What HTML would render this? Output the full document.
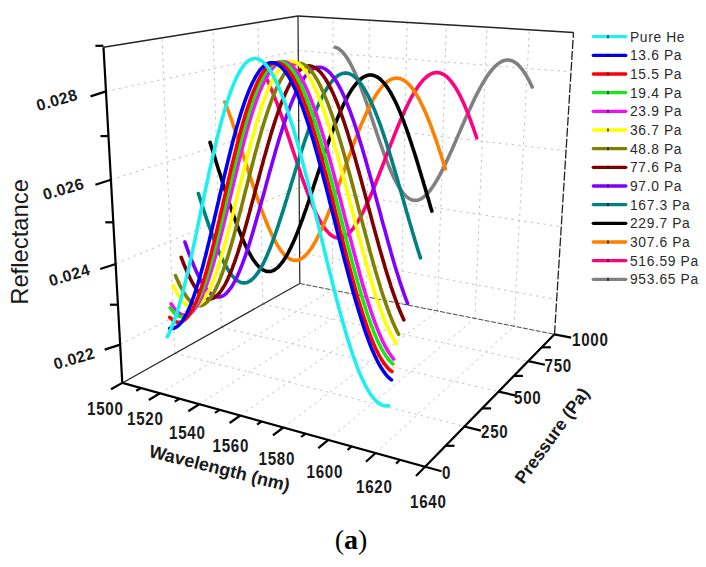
<!DOCTYPE html>
<html><head><meta charset="utf-8"><style>html,body{margin:0;padding:0;background:#fff;}body{width:706px;height:567px;overflow:hidden;}svg{display:block;}</style></head>
<body><svg width="706" height="567" viewBox="0 0 706 567"><g stroke="#c4c4c4" stroke-width="1" stroke-dasharray="2.5 4" fill="none"><line x1="174.9" y1="353.4" x2="162.0" y2="37.9" /><line x1="221.4" y1="327.4" x2="213.0" y2="29.7" /><line x1="262.7" y1="304.2" x2="258.0" y2="22.4" /><line x1="120.2" y1="344.6" x2="299.5" y2="252.5" /><line x1="115.7" y1="264.0" x2="299.1" y2="187.5" /><line x1="110.9" y1="179.7" x2="298.7" y2="120.3" /><line x1="106.0" y1="91.4" x2="298.2" y2="50.6" /><line x1="332.4" y1="290.0" x2="333.0" y2="18.1" /><line x1="366.2" y1="296.7" x2="369.4" y2="20.2" /><line x1="401.2" y1="303.7" x2="407.1" y2="22.5" /><line x1="437.5" y1="310.9" x2="446.3" y2="24.8" /><line x1="475.0" y1="318.4" x2="487.0" y2="27.3" /><line x1="514.0" y1="326.2" x2="529.4" y2="29.8" /><line x1="299.5" y1="252.5" x2="556.7" y2="299.6" /><line x1="299.1" y1="187.5" x2="561.3" y2="226.7" /><line x1="298.7" y1="120.3" x2="566.1" y2="150.8" /><line x1="298.2" y1="50.6" x2="571.0" y2="71.8" /><line x1="159.9" y1="393.3" x2="332.4" y2="290.0" /><line x1="199.2" y1="404.2" x2="366.2" y2="296.7" /><line x1="240.3" y1="415.5" x2="401.2" y2="303.7" /><line x1="283.3" y1="427.5" x2="437.5" y2="310.9" /><line x1="328.3" y1="439.9" x2="475.0" y2="318.4" /><line x1="375.6" y1="453.0" x2="514.0" y2="326.2" /><line x1="174.9" y1="353.4" x2="464.5" y2="426.5" /><line x1="221.4" y1="327.4" x2="498.5" y2="391.6" /><line x1="262.7" y1="304.2" x2="528.3" y2="361.1" /></g>
<g stroke="#222" stroke-width="1.5" fill="none"><line x1="103.5" y1="47.3" x2="298.0" y2="16.0" /><line x1="298.0" y1="16.0" x2="573.5" y2="32.4" /></g>
<g stroke="#222" stroke-width="1.2" fill="none"><line x1="299.8" y1="283.5" x2="298.0" y2="16.0" /><line x1="122.3" y1="382.9" x2="299.8" y2="283.5" /></g>
<g stroke="#222" stroke-width="1.3" stroke-dasharray="9 2" fill="none"><line x1="554.5" y1="334.3" x2="573.5" y2="32.4" /></g>
<g stroke="#333" stroke-width="0.9" stroke-dasharray="5 1.5" fill="none"><line x1="299.8" y1="283.5" x2="554.5" y2="334.3" /></g>
<polyline points="335.2,47.3 336.1,47.6 337.0,47.9 337.9,48.4 338.8,48.9 339.7,49.6 340.6,50.3 341.5,51.1 342.4,52.0 343.3,53.0 344.2,54.1 345.1,55.2 346.0,56.5 346.9,57.8 347.8,59.2 348.7,60.6 349.6,62.2 350.5,63.8 351.4,65.5 352.3,67.3 353.2,69.1 354.1,71.0 355.0,73.0 355.9,75.0 356.8,77.1 357.7,79.2 358.6,81.4 359.5,83.6 360.4,85.9 361.2,88.3 362.1,90.6 363.0,93.0 363.9,95.5 364.8,98.0 365.7,100.5 366.6,103.0 367.5,105.6 368.4,108.2 369.3,110.8 370.2,113.4 371.0,116.0 371.9,118.6 372.8,121.3 373.7,123.9 374.6,126.5 375.5,129.2 376.4,131.8 377.2,134.4 378.1,137.0 379.0,139.6 379.9,142.1 380.8,144.7 381.7,147.2 382.6,149.7 383.4,152.1 384.3,154.6 385.2,156.9 386.1,159.3 387.0,161.6 387.9,163.8 388.8,166.0 389.7,168.2 390.6,170.3 391.4,172.3 392.3,174.3 393.2,176.3 394.1,178.1 395.0,179.9 395.9,181.7 396.8,183.3 397.7,184.9 398.6,186.5 399.5,187.9 400.4,189.3 401.3,190.6 402.2,191.9 403.1,193.0 404.1,194.1 405.0,195.1 405.9,196.0 406.8,196.8 407.7,197.6 408.6,198.2 409.6,198.8 410.5,199.3 411.4,199.7 412.4,200.0 413.3,200.2 414.2,200.3 415.2,200.4 416.1,200.4 417.1,200.2 418.0,200.0 419.0,199.7 419.9,199.3 420.9,198.9 421.9,198.3 422.8,197.7 423.8,196.9 424.8,196.1 425.8,195.2 426.7,194.3 427.7,193.2 428.7,192.1 429.7,190.9 430.7,189.6 431.7,188.2 432.7,186.8 433.7,185.3 434.7,183.7 435.8,182.1 436.8,180.3 437.8,178.6 438.8,176.7 439.9,174.8 440.9,172.9 441.9,170.9 443.0,168.8 444.0,166.7 445.1,164.5 446.1,162.3 447.2,160.1 448.2,157.8 449.3,155.5 450.4,153.1 451.5,150.7 452.5,148.3 453.6,145.9 454.7,143.4 455.8,140.9 456.8,138.4 457.9,135.9 459.0,133.4 460.1,130.9 461.2,128.3 462.3,125.8 463.4,123.3 464.5,120.8 465.6,118.3 466.7,115.8 467.8,113.3 468.9,110.8 470.1,108.4 471.2,106.0 472.3,103.6 473.4,101.2 474.5,98.9 475.6,96.7 476.7,94.4 477.9,92.2 479.0,90.1 480.1,88.0 481.2,86.0 482.3,84.0 483.5,82.1 484.6,80.3 485.7,78.5 486.8,76.8 487.9,75.1 489.0,73.6 490.1,72.1 491.3,70.6 492.4,69.3 493.5,68.1 494.6,66.9 495.7,65.8 496.8,64.8 497.9,63.9 499.0,63.1 500.1,62.4 501.2,61.8 502.2,61.2 503.3,60.8 504.4,60.4 505.5,60.2 506.6,60.0 507.6,60.0 508.7,60.1 509.8,60.2 510.8,60.4 511.9,60.8 512.9,61.2 514.0,61.8 515.0,62.4 516.1,63.2 517.1,64.0 518.2,64.9 519.2,65.9 520.2,67.1 521.2,68.3 522.3,69.6 523.3,71.0 524.3,72.4 525.3,74.0 526.3,75.6 527.3,77.4 528.3,79.2 529.3,81.0 530.3,83.0 531.2,85.0 532.2,87.1" stroke="#808080" stroke-width="3.6" fill="none" stroke-linejoin="round" stroke-linecap="round"/>
<polyline points="264.2,74.0 265.2,75.9 266.2,77.8 267.2,79.8 268.2,81.9 269.1,84.1 270.1,86.3 271.1,88.6 272.1,91.0 273.1,93.4 274.1,95.9 275.1,98.5 276.1,101.1 277.1,103.7 278.1,106.5 279.1,109.2 280.1,112.0 281.1,114.9 282.1,117.7 283.1,120.6 284.1,123.6 285.1,126.5 286.1,129.5 287.1,132.5 288.1,135.6 289.1,138.6 290.1,141.6 291.1,144.7 292.1,147.7 293.1,150.8 294.1,153.8 295.1,156.8 296.1,159.8 297.1,162.8 298.1,165.8 299.1,168.8 300.1,171.7 301.0,174.6 302.0,177.5 303.0,180.3 304.0,183.1 305.0,185.9 306.0,188.6 307.0,191.3 308.0,193.9 309.0,196.5 309.9,199.0 310.9,201.4 311.9,203.8 312.9,206.1 313.9,208.4 314.9,210.6 315.9,212.7 316.8,214.8 317.8,216.7 318.8,218.6 319.8,220.4 320.8,222.2 321.8,223.8 322.8,225.4 323.7,226.9 324.7,228.3 325.7,229.6 326.7,230.8 327.7,231.9 328.7,233.0 329.7,233.9 330.6,234.8 331.6,235.5 332.6,236.2 333.6,236.7 334.6,237.2 335.6,237.6 336.6,237.8 337.6,238.0 338.6,238.1 339.6,238.0 340.6,237.9 341.6,237.7 342.6,237.4 343.6,237.0 344.6,236.4 345.6,235.8 346.6,235.1 347.7,234.3 348.7,233.4 349.7,232.4 350.7,231.4 351.7,230.2 352.8,228.9 353.8,227.6 354.8,226.1 355.8,224.6 356.9,223.0 357.9,221.3 359.0,219.6 360.0,217.7 361.1,215.8 362.1,213.8 363.2,211.8 364.2,209.6 365.3,207.4 366.3,205.2 367.4,202.8 368.5,200.5 369.5,198.0 370.6,195.5 371.7,193.0 372.8,190.4 373.9,187.7 375.0,185.1 376.0,182.3 377.1,179.6 378.2,176.8 379.3,174.0 380.4,171.1 381.6,168.3 382.7,165.4 383.8,162.5 384.9,159.6 386.0,156.7 387.1,153.7 388.3,150.8 389.4,147.9 390.5,145.0 391.6,142.1 392.8,139.2 393.9,136.3 395.1,133.4 396.2,130.6 397.4,127.8 398.5,125.0 399.7,122.3 400.8,119.6 402.0,117.0 403.1,114.4 404.3,111.8 405.4,109.3 406.6,106.9 407.8,104.5 408.9,102.1 410.1,99.9 411.2,97.7 412.4,95.6 413.6,93.6 414.8,91.6 415.9,89.7 417.1,87.9 418.3,86.2 419.4,84.6 420.6,83.1 421.8,81.7 422.9,80.3 424.1,79.1 425.3,78.0 426.4,77.0 427.6,76.0 428.8,75.2 429.9,74.5 431.1,73.9 432.3,73.4 433.4,73.0 434.6,72.7 435.7,72.6 436.9,72.5 438.0,72.6 439.2,72.8 440.3,73.1 441.5,73.5 442.6,74.0 443.8,74.6 444.9,75.3 446.1,76.2 447.2,77.2 448.3,78.2 449.4,79.4 450.6,80.7 451.7,82.1 452.8,83.6 453.9,85.2 455.1,86.9 456.2,88.7 457.3,90.6 458.4,92.5 459.5,94.6 460.6,96.8 461.7,99.0 462.8,101.4 463.9,103.8 465.0,106.3 466.0,108.9 467.1,111.5 468.2,114.2 469.3,117.0 470.4,119.8 471.4,122.8 472.5,125.7 473.6,128.7 474.6,131.8 475.7,134.9 476.7,138.0" stroke="#ff0080" stroke-width="3.6" fill="none" stroke-linejoin="round" stroke-linecap="round"/>
<polyline points="224.8,102.0 225.9,104.7 227.0,107.5 228.0,110.4 229.1,113.2 230.1,116.2 231.2,119.2 232.3,122.2 233.3,125.3 234.4,128.4 235.4,131.5 236.5,134.7 237.6,137.9 238.6,141.1 239.7,144.3 240.8,147.6 241.8,150.9 242.9,154.1 243.9,157.4 245.0,160.7 246.1,164.0 247.1,167.3 248.2,170.5 249.3,173.8 250.3,177.0 251.4,180.2 252.4,183.4 253.5,186.6 254.5,189.7 255.6,192.8 256.6,195.9 257.7,198.9 258.7,201.9 259.8,204.8 260.8,207.7 261.9,210.6 262.9,213.4 264.0,216.1 265.0,218.7 266.0,221.3 267.1,223.9 268.1,226.4 269.2,228.8 270.2,231.1 271.2,233.3 272.3,235.5 273.3,237.6 274.3,239.6 275.4,241.5 276.4,243.4 277.4,245.1 278.4,246.8 279.5,248.4 280.5,249.9 281.5,251.3 282.6,252.6 283.6,253.8 284.6,254.9 285.6,255.9 286.6,256.8 287.7,257.6 288.7,258.3 289.7,258.9 290.7,259.4 291.8,259.8 292.8,260.1 293.8,260.3 294.8,260.4 295.9,260.4 296.9,260.3 297.9,260.1 298.9,259.8 300.0,259.4 301.0,258.8 302.0,258.2 303.0,257.5 304.1,256.7 305.1,255.7 306.1,254.7 307.2,253.6 308.2,252.4 309.2,251.1 310.3,249.7 311.3,248.2 312.4,246.6 313.4,244.9 314.4,243.2 315.5,241.3 316.5,239.4 317.6,237.4 318.6,235.3 319.7,233.2 320.8,230.9 321.8,228.6 322.9,226.2 324.0,223.8 325.0,221.3 326.1,218.7 327.2,216.1 328.2,213.4 329.3,210.6 330.4,207.8 331.5,205.0 332.6,202.1 333.7,199.2 334.8,196.2 335.9,193.2 337.0,190.2 338.1,187.1 339.2,184.0 340.3,180.9 341.4,177.8 342.5,174.7 343.7,171.5 344.8,168.4 345.9,165.2 347.0,162.1 348.2,158.9 349.3,155.8 350.5,152.6 351.6,149.5 352.7,146.4 353.9,143.4 355.0,140.3 356.2,137.3 357.4,134.4 358.5,131.4 359.7,128.5 360.8,125.7 362.0,122.9 363.2,120.2 364.4,117.5 365.5,114.9 366.7,112.3 367.9,109.9 369.1,107.5 370.3,105.1 371.4,102.9 372.6,100.7 373.8,98.6 375.0,96.6 376.2,94.7 377.4,92.9 378.6,91.1 379.8,89.5 381.0,88.0 382.2,86.5 383.4,85.2 384.6,84.0 385.8,82.9 387.0,81.9 388.2,81.0 389.4,80.3 390.6,79.6 391.8,79.1 393.0,78.7 394.2,78.4 395.4,78.2 396.6,78.1 397.8,78.2 399.0,78.3 400.2,78.6 401.4,79.1 402.6,79.6 403.8,80.3 404.9,81.0 406.1,81.9 407.3,82.9 408.5,84.1 409.7,85.3 410.9,86.7 412.1,88.1 413.2,89.7 414.4,91.4 415.6,93.2 416.8,95.1 417.9,97.1 419.1,99.2 420.3,101.5 421.4,103.8 422.6,106.2 423.8,108.6 424.9,111.2 426.1,113.9 427.2,116.6 428.4,119.5 429.5,122.4 430.7,125.3 431.8,128.4 432.9,131.5 434.1,134.6 435.2,137.9 436.4,141.1 437.5,144.5 438.6,147.8 439.7,151.3 440.9,154.7 442.0,158.2 443.1,161.8 444.2,165.3 445.4,168.9" stroke="#ff8000" stroke-width="3.6" fill="none" stroke-linejoin="round" stroke-linecap="round"/>
<polyline points="210.0,142.4 211.1,145.8 212.2,149.2 213.3,152.7 214.3,156.1 215.4,159.6 216.5,163.1 217.6,166.5 218.7,170.0 219.8,173.5 220.9,176.9 222.0,180.4 223.0,183.8 224.1,187.2 225.2,190.5 226.3,193.9 227.4,197.2 228.4,200.4 229.5,203.7 230.6,206.8 231.7,210.0 232.7,213.1 233.8,216.1 234.9,219.1 235.9,222.0 237.0,224.9 238.1,227.7 239.1,230.4 240.2,233.1 241.2,235.7 242.3,238.2 243.3,240.6 244.4,243.0 245.4,245.3 246.5,247.5 247.5,249.6 248.6,251.6 249.6,253.5 250.7,255.4 251.7,257.1 252.7,258.8 253.8,260.4 254.8,261.8 255.8,263.2 256.9,264.5 257.9,265.6 258.9,266.7 260.0,267.6 261.0,268.5 262.0,269.3 263.0,269.9 264.1,270.4 265.1,270.9 266.1,271.2 267.1,271.4 268.1,271.5 269.2,271.5 270.2,271.4 271.2,271.2 272.2,270.9 273.2,270.5 274.3,270.0 275.3,269.3 276.3,268.6 277.3,267.8 278.4,266.8 279.4,265.8 280.4,264.6 281.4,263.4 282.4,262.0 283.5,260.6 284.5,259.0 285.5,257.4 286.6,255.6 287.6,253.8 288.6,251.9 289.6,249.9 290.7,247.8 291.7,245.6 292.8,243.4 293.8,241.1 294.8,238.7 295.9,236.2 296.9,233.6 298.0,231.0 299.0,228.3 300.1,225.5 301.1,222.7 302.2,219.8 303.3,216.9 304.3,213.9 305.4,210.9 306.5,207.8 307.5,204.7 308.6,201.5 309.7,198.3 310.8,195.1 311.8,191.9 312.9,188.6 314.0,185.3 315.1,181.9 316.2,178.6 317.3,175.3 318.4,171.9 319.5,168.6 320.6,165.2 321.8,161.9 322.9,158.5 324.0,155.2 325.1,151.9 326.2,148.6 327.4,145.4 328.5,142.1 329.6,138.9 330.8,135.8 331.9,132.7 333.1,129.6 334.2,126.6 335.4,123.6 336.5,120.7 337.7,117.8 338.9,115.0 340.0,112.3 341.2,109.7 342.4,107.1 343.5,104.6 344.7,102.2 345.9,99.8 347.1,97.6 348.2,95.4 349.4,93.4 350.6,91.4 351.8,89.5 353.0,87.8 354.2,86.1 355.4,84.6 356.6,83.1 357.8,81.8 359.0,80.6 360.2,79.5 361.4,78.5 362.6,77.6 363.8,76.9 365.0,76.3 366.2,75.8 367.4,75.4 368.6,75.1 369.8,75.0 371.0,75.0 372.2,75.1 373.4,75.4 374.6,75.8 375.8,76.3 377.0,76.9 378.2,77.6 379.4,78.5 380.6,79.5 381.8,80.7 383.0,81.9 384.2,83.3 385.4,84.8 386.6,86.4 387.8,88.1 389.0,90.0 390.2,91.9 391.4,94.0 392.5,96.1 393.7,98.4 394.9,100.8 396.1,103.3 397.3,105.8 398.5,108.5 399.6,111.3 400.8,114.1 402.0,117.1 403.2,120.1 404.3,123.2 405.5,126.3 406.7,129.6 407.8,132.9 409.0,136.3 410.1,139.7 411.3,143.2 412.4,146.7 413.6,150.3 414.8,154.0 415.9,157.6 417.1,161.4 418.2,165.1 419.3,168.9 420.5,172.7 421.6,176.5 422.8,180.3 423.9,184.2 425.1,188.0 426.2,191.9 427.3,195.8 428.5,199.6 429.6,203.5 430.7,207.3 431.9,211.1" stroke="#000000" stroke-width="3.6" fill="none" stroke-linejoin="round" stroke-linecap="round"/>
<polyline points="198.4,193.5 199.5,197.0 200.6,200.5 201.7,203.9 202.8,207.4 203.9,210.7 205.0,214.1 206.1,217.4 207.2,220.6 208.3,223.8 209.4,226.9 210.5,230.0 211.5,233.0 212.6,235.9 213.7,238.8 214.8,241.6 215.8,244.3 216.9,247.0 218.0,249.6 219.0,252.0 220.1,254.4 221.2,256.8 222.2,259.0 223.3,261.2 224.3,263.2 225.4,265.2 226.4,267.0 227.5,268.8 228.5,270.5 229.5,272.0 230.6,273.5 231.6,274.9 232.6,276.1 233.7,277.3 234.7,278.4 235.7,279.3 236.8,280.1 237.8,280.9 238.8,281.5 239.8,282.0 240.8,282.4 241.9,282.7 242.9,282.9 243.9,282.9 244.9,282.9 245.9,282.7 246.9,282.5 247.9,282.1 249.0,281.6 250.0,281.0 251.0,280.3 252.0,279.5 253.0,278.6 254.0,277.6 255.0,276.5 256.0,275.2 257.0,273.9 258.0,272.4 259.0,270.9 260.0,269.3 261.1,267.5 262.1,265.7 263.1,263.8 264.1,261.8 265.1,259.6 266.1,257.4 267.1,255.2 268.1,252.8 269.2,250.3 270.2,247.8 271.2,245.2 272.2,242.5 273.2,239.7 274.3,236.9 275.3,234.0 276.3,231.1 277.4,228.1 278.4,225.0 279.4,221.9 280.5,218.7 281.5,215.4 282.6,212.2 283.6,208.9 284.7,205.5 285.7,202.1 286.8,198.7 287.8,195.3 288.9,191.8 290.0,188.3 291.0,184.8 292.1,181.3 293.2,177.8 294.3,174.2 295.3,170.7 296.4,167.2 297.5,163.7 298.6,160.2 299.7,156.7 300.8,153.2 301.9,149.8 303.0,146.4 304.1,143.0 305.2,139.6 306.4,136.3 307.5,133.1 308.6,129.9 309.7,126.7 310.9,123.6 312.0,120.6 313.1,117.6 314.3,114.7 315.4,111.8 316.6,109.1 317.7,106.4 318.9,103.8 320.0,101.3 321.2,98.8 322.4,96.5 323.5,94.3 324.7,92.1 325.9,90.1 327.1,88.1 328.2,86.3 329.4,84.6 330.6,83.0 331.8,81.5 333.0,80.1 334.2,78.8 335.4,77.7 336.6,76.7 337.8,75.8 338.9,75.0 340.1,74.4 341.3,73.9 342.5,73.5 343.7,73.2 345.0,73.1 346.2,73.1 347.4,73.3 348.6,73.5 349.8,73.9 351.0,74.5 352.2,75.1 353.4,75.9 354.6,76.9 355.8,77.9 357.0,79.1 358.2,80.4 359.4,81.8 360.6,83.4 361.8,85.1 363.0,86.9 364.2,88.8 365.4,90.9 366.6,93.0 367.8,95.3 369.0,97.6 370.2,100.1 371.4,102.7 372.6,105.4 373.8,108.2 375.0,111.1 376.2,114.1 377.4,117.1 378.6,120.3 379.8,123.5 381.0,126.8 382.1,130.2 383.3,133.7 384.5,137.2 385.7,140.8 386.9,144.5 388.0,148.2 389.2,151.9 390.4,155.7 391.6,159.6 392.7,163.5 393.9,167.4 395.1,171.4 396.2,175.3 397.4,179.3 398.5,183.4 399.7,187.4 400.9,191.5 402.0,195.5 403.2,199.6 404.3,203.6 405.5,207.7 406.6,211.7 407.8,215.7 408.9,219.8 410.1,223.7 411.3,227.7 412.4,231.6 413.6,235.5 414.7,239.4 415.9,243.2 417.0,246.9 418.2,250.7 419.3,254.3 420.5,257.9" stroke="#008080" stroke-width="3.6" fill="none" stroke-linejoin="round" stroke-linecap="round"/>
<polyline points="184.9,242.0 186.0,245.2 187.1,248.3 188.2,251.3 189.3,254.3 190.4,257.2 191.5,260.0 192.6,262.7 193.7,265.3 194.7,267.8 195.8,270.3 196.9,272.6 197.9,274.8 199.0,277.0 200.1,279.0 201.1,281.0 202.2,282.8 203.2,284.5 204.3,286.2 205.3,287.7 206.4,289.1 207.4,290.4 208.4,291.6 209.5,292.6 210.5,293.6 211.5,294.4 212.6,295.1 213.6,295.8 214.6,296.2 215.6,296.6 216.6,296.9 217.6,297.0 218.6,297.0 219.6,296.9 220.7,296.7 221.7,296.4 222.7,295.9 223.7,295.4 224.7,294.7 225.7,293.9 226.7,292.9 227.6,291.9 228.6,290.8 229.6,289.5 230.6,288.2 231.6,286.7 232.6,285.1 233.6,283.4 234.6,281.6 235.6,279.7 236.6,277.7 237.5,275.6 238.5,273.4 239.5,271.1 240.5,268.7 241.5,266.2 242.5,263.6 243.5,260.9 244.5,258.2 245.5,255.4 246.5,252.4 247.5,249.5 248.5,246.4 249.5,243.3 250.5,240.0 251.5,236.8 252.5,233.4 253.5,230.1 254.5,226.6 255.5,223.1 256.5,219.6 257.5,216.0 258.6,212.3 259.6,208.7 260.6,205.0 261.6,201.2 262.7,197.5 263.7,193.7 264.8,189.9 265.8,186.1 266.8,182.3 267.9,178.5 268.9,174.6 270.0,170.8 271.1,167.0 272.1,163.2 273.2,159.4 274.3,155.7 275.3,151.9 276.4,148.2 277.5,144.5 278.6,140.9 279.7,137.3 280.8,133.7 281.9,130.2 283.0,126.8 284.1,123.4 285.2,120.1 286.3,116.8 287.4,113.7 288.6,110.5 289.7,107.5 290.8,104.6 292.0,101.7 293.1,98.9 294.3,96.3 295.4,93.7 296.6,91.2 297.7,88.9 298.9,86.6 300.0,84.4 301.2,82.4 302.4,80.5 303.5,78.7 304.7,77.0 305.9,75.5 307.1,74.0 308.3,72.7 309.5,71.6 310.6,70.5 311.8,69.7 313.0,68.9 314.2,68.3 315.4,67.8 316.6,67.4 317.8,67.2 319.1,67.2 320.3,67.2 321.5,67.5 322.7,67.8 323.9,68.3 325.1,69.0 326.3,69.8 327.5,70.7 328.8,71.7 330.0,72.9 331.2,74.3 332.4,75.8 333.6,77.4 334.9,79.1 336.1,81.0 337.3,83.0 338.5,85.1 339.7,87.4 340.9,89.8 342.2,92.3 343.4,94.9 344.6,97.6 345.8,100.5 347.0,103.4 348.2,106.5 349.5,109.7 350.7,112.9 351.9,116.3 353.1,119.7 354.3,123.2 355.5,126.9 356.7,130.6 357.9,134.3 359.1,138.2 360.3,142.1 361.5,146.0 362.7,150.1 363.9,154.1 365.1,158.3 366.3,162.5 367.5,166.7 368.7,170.9 369.9,175.2 371.1,179.5 372.3,183.9 373.5,188.2 374.6,192.6 375.8,197.0 377.0,201.4 378.2,205.7 379.4,210.1 380.6,214.5 381.7,218.9 382.9,223.2 384.1,227.5 385.3,231.8 386.4,236.1 387.6,240.3 388.8,244.5 390.0,248.7 391.1,252.8 392.3,256.9 393.5,260.9 394.6,264.8 395.8,268.7 397.0,272.5 398.2,276.3 399.3,280.0 400.5,283.6 401.7,287.1 402.9,290.6 404.0,293.9 405.2,297.2 406.4,300.4 407.6,303.5" stroke="#8000ff" stroke-width="3.6" fill="none" stroke-linejoin="round" stroke-linecap="round"/>
<polyline points="181.2,257.4 182.3,260.2 183.4,263.0 184.5,265.7 185.6,268.3 186.7,270.8 187.7,273.3 188.8,275.6 189.9,277.8 190.9,279.9 192.0,281.9 193.1,283.8 194.1,285.6 195.2,287.3 196.2,288.9 197.3,290.4 198.3,291.7 199.3,293.0 200.4,294.1 201.4,295.1 202.4,296.0 203.5,296.8 204.5,297.4 205.5,298.0 206.5,298.4 207.5,298.7 208.5,298.9 209.5,298.9 210.5,298.9 211.5,298.7 212.5,298.4 213.5,298.0 214.5,297.4 215.5,296.8 216.5,296.0 217.5,295.1 218.5,294.1 219.5,292.9 220.5,291.7 221.5,290.3 222.4,288.9 223.4,287.3 224.4,285.6 225.4,283.8 226.4,281.9 227.4,279.9 228.3,277.8 229.3,275.6 230.3,273.3 231.3,270.8 232.3,268.3 233.2,265.7 234.2,263.1 235.2,260.3 236.2,257.4 237.2,254.5 238.2,251.5 239.1,248.4 240.1,245.2 241.1,241.9 242.1,238.6 243.1,235.3 244.1,231.8 245.1,228.3 246.1,224.8 247.1,221.2 248.1,217.6 249.1,213.9 250.1,210.2 251.1,206.4 252.1,202.6 253.2,198.8 254.2,195.0 255.2,191.1 256.2,187.2 257.3,183.4 258.3,179.5 259.4,175.6 260.4,171.7 261.4,167.8 262.5,164.0 263.5,160.1 264.6,156.3 265.7,152.5 266.7,148.7 267.8,144.9 268.9,141.2 270.0,137.6 271.0,133.9 272.1,130.4 273.2,126.9 274.3,123.4 275.4,120.0 276.5,116.7 277.6,113.5 278.7,110.3 279.9,107.2 281.0,104.2 282.1,101.3 283.2,98.4 284.4,95.7 285.5,93.1 286.7,90.6 287.8,88.1 289.0,85.8 290.1,83.6 291.3,81.5 292.4,79.6 293.6,77.7 294.8,76.0 295.9,74.4 297.1,73.0 298.3,71.7 299.5,70.5 300.7,69.4 301.8,68.5 303.0,67.7 304.2,67.1 305.4,66.6 306.6,66.2 307.8,66.0 309.0,65.9 310.2,66.0 311.5,66.2 312.7,66.6 313.9,67.1 315.1,67.7 316.3,68.5 317.5,69.5 318.7,70.5 320.0,71.8 321.2,73.1 322.4,74.6 323.6,76.3 324.8,78.1 326.1,80.0 327.3,82.0 328.5,84.2 329.7,86.5 330.9,88.9 332.2,91.5 333.4,94.1 334.6,96.9 335.8,99.8 337.1,102.8 338.3,105.9 339.5,109.1 340.7,112.5 341.9,115.9 343.1,119.4 344.4,123.0 345.6,126.7 346.8,130.4 348.0,134.3 349.2,138.2 350.4,142.1 351.6,146.2 352.8,150.3 354.0,154.4 355.2,158.6 356.4,162.9 357.6,167.2 358.8,171.5 360.0,175.9 361.2,180.2 362.4,184.7 363.6,189.1 364.8,193.5 366.0,198.0 367.2,202.4 368.4,206.9 369.6,211.3 370.8,215.8 371.9,220.2 373.1,224.6 374.3,229.0 375.5,233.4 376.7,237.7 377.9,242.0 379.0,246.2 380.2,250.4 381.4,254.6 382.6,258.7 383.8,262.8 384.9,266.8 386.1,270.7 387.3,274.6 388.5,278.4 389.7,282.1 390.8,285.8 392.0,289.3 393.2,292.8 394.4,296.2 395.6,299.5 396.7,302.7 397.9,305.9 399.1,308.9 400.3,311.8 401.5,314.6 402.7,317.3 403.9,319.9" stroke="#800000" stroke-width="3.6" fill="none" stroke-linejoin="round" stroke-linecap="round"/>
<polyline points="175.5,275.6 176.6,278.1 177.7,280.5 178.8,282.9 179.8,285.1 180.9,287.2 182.0,289.2 183.0,291.1 184.1,292.9 185.1,294.6 186.2,296.2 187.2,297.6 188.3,299.0 189.3,300.2 190.4,301.3 191.4,302.3 192.4,303.1 193.4,303.9 194.5,304.5 195.5,305.0 196.5,305.4 197.5,305.7 198.5,305.8 199.5,305.8 200.5,305.7 201.5,305.5 202.5,305.1 203.5,304.7 204.5,304.1 205.5,303.4 206.5,302.5 207.5,301.6 208.4,300.5 209.4,299.3 210.4,298.0 211.4,296.6 212.3,295.0 213.3,293.4 214.3,291.6 215.3,289.7 216.2,287.8 217.2,285.7 218.2,283.5 219.2,281.2 220.1,278.8 221.1,276.3 222.1,273.7 223.0,271.0 224.0,268.2 225.0,265.4 225.9,262.4 226.9,259.4 227.9,256.2 228.9,253.0 229.8,249.8 230.8,246.4 231.8,243.0 232.8,239.5 233.8,236.0 234.7,232.4 235.7,228.7 236.7,225.0 237.7,221.3 238.7,217.5 239.7,213.7 240.7,209.8 241.7,205.9 242.7,201.9 243.7,198.0 244.7,194.0 245.7,190.0 246.8,186.0 247.8,182.0 248.8,178.0 249.8,174.0 250.9,170.0 251.9,166.0 253.0,162.0 254.0,158.1 255.0,154.1 256.1,150.2 257.2,146.3 258.2,142.5 259.3,138.7 260.4,135.0 261.4,131.3 262.5,127.6 263.6,124.1 264.7,120.5 265.8,117.1 266.9,113.7 268.0,110.4 269.1,107.2 270.2,104.1 271.3,101.0 272.4,98.1 273.6,95.2 274.7,92.5 275.8,89.8 277.0,87.3 278.1,84.9 279.3,82.6 280.4,80.4 281.6,78.3 282.7,76.3 283.9,74.5 285.1,72.8 286.2,71.3 287.4,69.8 288.6,68.5 289.8,67.4 291.0,66.4 292.2,65.5 293.4,64.8 294.6,64.2 295.8,63.7 297.0,63.5 298.2,63.3 299.4,63.3 300.6,63.5 301.8,63.8 303.0,64.2 304.2,64.8 305.4,65.5 306.7,66.4 307.9,67.5 309.1,68.7 310.3,70.0 311.6,71.5 312.8,73.1 314.0,74.8 315.2,76.7 316.5,78.7 317.7,80.9 318.9,83.2 320.2,85.6 321.4,88.2 322.6,90.9 323.9,93.6 325.1,96.6 326.3,99.6 327.6,102.7 328.8,106.0 330.0,109.3 331.3,112.8 332.5,116.3 333.7,120.0 334.9,123.7 336.2,127.6 337.4,131.5 338.6,135.4 339.8,139.5 341.0,143.6 342.3,147.8 343.5,152.0 344.7,156.3 345.9,160.7 347.1,165.1 348.3,169.5 349.6,174.0 350.8,178.5 352.0,183.0 353.2,187.5 354.4,192.1 355.6,196.7 356.8,201.3 358.0,205.9 359.2,210.5 360.4,215.1 361.6,219.6 362.8,224.2 364.0,228.7 365.2,233.3 366.4,237.7 367.6,242.2 368.8,246.6 369.9,251.0 371.1,255.3 372.3,259.6 373.5,263.9 374.7,268.1 375.9,272.2 377.1,276.2 378.3,280.2 379.5,284.1 380.6,288.0 381.8,291.7 383.0,295.4 384.2,299.0 385.4,302.5 386.6,305.9 387.8,309.2 389.0,312.5 390.2,315.6 391.4,318.6 392.6,321.5 393.8,324.3 395.0,327.0 396.2,329.6 397.4,332.1 398.6,334.4" stroke="#808000" stroke-width="3.6" fill="none" stroke-linejoin="round" stroke-linecap="round"/>
<polyline points="173.2,285.7 174.3,287.8 175.4,289.9 176.4,291.8 177.5,293.7 178.5,295.4 179.6,297.0 180.6,298.5 181.7,299.9 182.7,301.2 183.7,302.3 184.8,303.3 185.8,304.2 186.8,305.0 187.8,305.7 188.9,306.2 189.9,306.6 190.9,306.9 191.9,307.1 192.9,307.1 193.9,307.0 194.9,306.8 195.9,306.5 196.9,306.0 197.9,305.4 198.8,304.7 199.8,303.9 200.8,303.0 201.8,301.9 202.8,300.7 203.7,299.4 204.7,298.0 205.7,296.5 206.6,294.8 207.6,293.0 208.6,291.2 209.5,289.2 210.5,287.1 211.5,284.9 212.4,282.6 213.4,280.2 214.3,277.6 215.3,275.0 216.3,272.3 217.2,269.5 218.2,266.7 219.2,263.7 220.1,260.6 221.1,257.5 222.0,254.2 223.0,250.9 224.0,247.6 225.0,244.1 225.9,240.6 226.9,237.0 227.9,233.4 228.8,229.7 229.8,226.0 230.8,222.2 231.8,218.3 232.8,214.5 233.8,210.5 234.7,206.6 235.7,202.6 236.7,198.6 237.7,194.6 238.7,190.5 239.7,186.5 240.8,182.4 241.8,178.4 242.8,174.3 243.8,170.2 244.8,166.2 245.9,162.2 246.9,158.1 247.9,154.1 249.0,150.2 250.0,146.2 251.1,142.3 252.1,138.5 253.2,134.7 254.3,130.9 255.3,127.2 256.4,123.6 257.5,120.0 258.6,116.5 259.7,113.1 260.7,109.7 261.8,106.4 262.9,103.2 264.1,100.1 265.2,97.1 266.3,94.2 267.4,91.4 268.5,88.7 269.7,86.1 270.8,83.6 271.9,81.3 273.1,79.0 274.2,76.9 275.4,74.9 276.5,73.0 277.7,71.3 278.9,69.7 280.0,68.2 281.2,66.9 282.4,65.7 283.6,64.6 284.8,63.7 286.0,62.9 287.1,62.3 288.3,61.8 289.5,61.5 290.7,61.3 291.9,61.3 293.2,61.4 294.4,61.7 295.6,62.1 296.8,62.7 298.0,63.5 299.2,64.3 300.5,65.4 301.7,66.5 302.9,67.8 304.1,69.3 305.4,70.9 306.6,72.7 307.8,74.6 309.0,76.6 310.3,78.8 311.5,81.1 312.7,83.5 314.0,86.1 315.2,88.8 316.4,91.6 317.7,94.5 318.9,97.6 320.1,100.7 321.4,104.0 322.6,107.4 323.9,110.9 325.1,114.4 326.3,118.1 327.5,121.9 328.8,125.8 330.0,129.7 331.2,133.7 332.5,137.8 333.7,142.0 334.9,146.2 336.1,150.5 337.4,154.8 338.6,159.2 339.8,163.7 341.0,168.1 342.2,172.7 343.4,177.2 344.7,181.8 345.9,186.4 347.1,191.0 348.3,195.7 349.5,200.3 350.7,205.0 351.9,209.6 353.1,214.3 354.3,218.9 355.5,223.5 356.7,228.1 357.9,232.7 359.1,237.2 360.3,241.8 361.5,246.2 362.7,250.7 363.9,255.1 365.1,259.4 366.3,263.7 367.5,268.0 368.7,272.1 369.9,276.2 371.1,280.3 372.3,284.3 373.4,288.2 374.6,292.0 375.8,295.7 377.0,299.4 378.2,302.9 379.4,306.4 380.6,309.8 381.8,313.0 383.0,316.2 384.2,319.3 385.4,322.2 386.6,325.1 387.8,327.8 389.0,330.4 390.2,333.0 391.4,335.4 392.6,337.6 393.9,339.8 395.1,341.8 396.3,343.7" stroke="#ffff00" stroke-width="3.6" fill="none" stroke-linejoin="round" stroke-linecap="round"/>
<polyline points="171.1,303.8 172.1,305.4 173.2,306.9 174.2,308.3 175.2,309.5 176.3,310.6 177.3,311.6 178.3,312.5 179.3,313.3 180.3,313.9 181.4,314.4 182.4,314.8 183.4,315.1 184.4,315.2 185.4,315.2 186.3,315.1 187.3,314.8 188.3,314.5 189.3,314.0 190.3,313.3 191.3,312.6 192.2,311.7 193.2,310.7 194.2,309.6 195.1,308.4 196.1,307.0 197.1,305.6 198.0,304.0 199.0,302.3 199.9,300.5 200.9,298.5 201.8,296.5 202.8,294.3 203.7,292.1 204.7,289.7 205.6,287.2 206.6,284.7 207.5,282.0 208.5,279.2 209.4,276.4 210.4,273.4 211.3,270.4 212.3,267.2 213.2,264.0 214.2,260.7 215.1,257.4 216.1,253.9 217.0,250.4 218.0,246.8 218.9,243.2 219.9,239.5 220.9,235.7 221.8,231.9 222.8,228.0 223.7,224.1 224.7,220.1 225.7,216.1 226.7,212.1 227.6,208.0 228.6,203.9 229.6,199.8 230.6,195.7 231.6,191.5 232.6,187.4 233.6,183.2 234.6,179.1 235.6,174.9 236.6,170.8 237.6,166.6 238.6,162.5 239.6,158.4 240.7,154.4 241.7,150.4 242.7,146.4 243.8,142.4 244.8,138.5 245.9,134.6 246.9,130.8 248.0,127.1 249.0,123.4 250.1,119.8 251.2,116.3 252.2,112.8 253.3,109.4 254.4,106.1 255.5,102.9 256.6,99.8 257.7,96.8 258.8,93.9 259.9,91.1 261.1,88.4 262.2,85.8 263.3,83.4 264.4,81.0 265.6,78.8 266.7,76.7 267.9,74.7 269.0,72.9 270.2,71.2 271.3,69.6 272.5,68.2 273.7,66.9 274.8,65.8 276.0,64.8 277.2,63.9 278.4,63.2 279.6,62.6 280.8,62.2 282.0,62.0 283.2,61.9 284.4,61.9 285.6,62.1 286.8,62.5 288.0,63.0 289.2,63.7 290.4,64.5 291.6,65.5 292.9,66.6 294.1,67.8 295.3,69.3 296.5,70.8 297.8,72.5 299.0,74.4 300.2,76.4 301.5,78.5 302.7,80.8 303.9,83.2 305.2,85.7 306.4,88.4 307.6,91.2 308.9,94.1 310.1,97.2 311.3,100.3 312.6,103.6 313.8,107.0 315.1,110.5 316.3,114.1 317.5,117.8 318.8,121.6 320.0,125.5 321.2,129.4 322.5,133.5 323.7,137.6 324.9,141.8 326.2,146.1 327.4,150.4 328.6,154.8 329.8,159.3 331.1,163.8 332.3,168.4 333.5,172.9 334.7,177.6 335.9,182.2 337.2,186.9 338.4,191.6 339.6,196.4 340.8,201.1 342.0,205.9 343.2,210.6 344.4,215.4 345.6,220.1 346.9,224.8 348.1,229.6 349.3,234.3 350.5,238.9 351.7,243.6 352.9,248.2 354.1,252.8 355.3,257.3 356.5,261.8 357.7,266.2 358.9,270.6 360.0,275.0 361.2,279.2 362.4,283.4 363.6,287.5 364.8,291.6 366.0,295.6 367.2,299.5 368.4,303.3 369.6,307.0 370.8,310.7 372.0,314.2 373.2,317.6 374.4,321.0 375.6,324.2 376.8,327.4 378.0,330.4 379.2,333.3 380.4,336.1 381.6,338.8 382.8,341.4 384.0,343.9 385.2,346.2 386.4,348.4 387.6,350.5 388.8,352.5 390.1,354.3 391.3,356.0 392.5,357.6 393.7,359.0" stroke="#f010f0" stroke-width="3.6" fill="none" stroke-linejoin="round" stroke-linecap="round"/>
<polyline points="170.2,308.0 171.3,309.4 172.3,310.7 173.3,311.9 174.4,312.9 175.4,313.8 176.4,314.7 177.4,315.3 178.4,315.9 179.4,316.3 180.4,316.6 181.4,316.8 182.4,316.8 183.4,316.7 184.4,316.5 185.4,316.2 186.4,315.7 187.3,315.1 188.3,314.4 189.3,313.5 190.3,312.6 191.2,311.5 192.2,310.3 193.1,308.9 194.1,307.5 195.1,305.9 196.0,304.2 197.0,302.4 197.9,300.4 198.9,298.4 199.8,296.2 200.8,294.0 201.7,291.6 202.6,289.1 203.6,286.5 204.5,283.8 205.5,281.0 206.4,278.2 207.4,275.2 208.3,272.1 209.2,269.0 210.2,265.7 211.1,262.4 212.1,259.0 213.0,255.5 214.0,252.0 214.9,248.4 215.9,244.7 216.8,240.9 217.8,237.1 218.7,233.2 219.7,229.3 220.6,225.4 221.6,221.4 222.6,217.3 223.5,213.2 224.5,209.1 225.5,205.0 226.5,200.8 227.4,196.7 228.4,192.5 229.4,188.3 230.4,184.1 231.4,179.8 232.4,175.6 233.4,171.5 234.4,167.3 235.4,163.1 236.4,159.0 237.4,154.9 238.5,150.8 239.5,146.8 240.5,142.8 241.6,138.8 242.6,134.9 243.6,131.1 244.7,127.3 245.8,123.6 246.8,119.9 247.9,116.3 249.0,112.8 250.0,109.4 251.1,106.1 252.2,102.9 253.3,99.7 254.4,96.7 255.5,93.8 256.6,91.0 257.7,88.2 258.9,85.6 260.0,83.2 261.1,80.8 262.2,78.6 263.4,76.5 264.5,74.5 265.7,72.7 266.8,71.0 268.0,69.4 269.1,68.0 270.3,66.7 271.5,65.6 272.7,64.6 273.8,63.8 275.0,63.1 276.2,62.6 277.4,62.2 278.6,62.0 279.8,61.9 281.0,62.0 282.2,62.2 283.4,62.6 284.6,63.2 285.8,63.9 287.0,64.7 288.3,65.8 289.5,66.9 290.7,68.3 291.9,69.7 293.1,71.4 294.4,73.1 295.6,75.1 296.8,77.1 298.1,79.3 299.3,81.7 300.5,84.2 301.8,86.8 303.0,89.5 304.2,92.4 305.5,95.4 306.7,98.5 308.0,101.8 309.2,105.1 310.4,108.6 311.7,112.1 312.9,115.8 314.1,119.6 315.4,123.5 316.6,127.4 317.8,131.5 319.1,135.6 320.3,139.8 321.5,144.1 322.8,148.5 324.0,152.9 325.2,157.3 326.5,161.9 327.7,166.4 328.9,171.1 330.1,175.7 331.4,180.4 332.6,185.1 333.8,189.9 335.0,194.7 336.2,199.5 337.4,204.3 338.7,209.1 339.9,213.9 341.1,218.7 342.3,223.5 343.5,228.2 344.7,233.0 345.9,237.7 347.1,242.4 348.3,247.1 349.5,251.8 350.7,256.4 351.9,260.9 353.1,265.4 354.3,269.9 355.5,274.3 356.7,278.6 357.9,282.9 359.1,287.1 360.3,291.2 361.5,295.3 362.7,299.2 363.9,303.1 365.1,306.9 366.2,310.6 367.4,314.2 368.6,317.7 369.8,321.2 371.0,324.5 372.2,327.7 373.4,330.8 374.6,333.8 375.8,336.6 377.0,339.4 378.2,342.0 379.4,344.6 380.6,347.0 381.8,349.2 383.1,351.4 384.3,353.4 385.5,355.3 386.7,357.0 387.9,358.7 389.2,360.2 390.4,361.5 391.6,362.7 392.9,363.8" stroke="#18e818" stroke-width="3.6" fill="none" stroke-linejoin="round" stroke-linecap="round"/>
<polyline points="169.7,317.3 170.8,318.3 171.8,319.3 172.8,320.1 173.8,320.8 174.8,321.3 175.8,321.8 176.8,322.1 177.8,322.2 178.8,322.3 179.8,322.2 180.8,322.0 181.7,321.7 182.7,321.2 183.7,320.6 184.7,319.9 185.6,319.1 186.6,318.1 187.5,317.0 188.5,315.8 189.5,314.5 190.4,313.0 191.4,311.5 192.3,309.8 193.3,308.0 194.2,306.0 195.1,304.0 196.1,301.9 197.0,299.6 198.0,297.2 198.9,294.7 199.8,292.2 200.8,289.5 201.7,286.7 202.6,283.8 203.6,280.8 204.5,277.8 205.4,274.6 206.4,271.4 207.3,268.0 208.2,264.6 209.2,261.1 210.1,257.6 211.1,253.9 212.0,250.2 212.9,246.5 213.9,242.7 214.8,238.8 215.8,234.8 216.7,230.9 217.7,226.8 218.6,222.8 219.6,218.7 220.5,214.5 221.5,210.3 222.5,206.2 223.4,201.9 224.4,197.7 225.4,193.5 226.4,189.2 227.4,185.0 228.3,180.7 229.3,176.5 230.3,172.3 231.3,168.0 232.3,163.8 233.3,159.7 234.4,155.5 235.4,151.4 236.4,147.4 237.4,143.3 238.5,139.4 239.5,135.5 240.5,131.6 241.6,127.8 242.6,124.1 243.7,120.4 244.8,116.8 245.8,113.3 246.9,109.9 248.0,106.6 249.1,103.3 250.1,100.2 251.2,97.2 252.3,94.2 253.4,91.4 254.6,88.7 255.7,86.1 256.8,83.7 257.9,81.3 259.0,79.1 260.2,77.0 261.3,75.0 262.5,73.2 263.6,71.5 264.8,70.0 265.9,68.6 267.1,67.3 268.3,66.2 269.4,65.3 270.6,64.5 271.8,63.8 273.0,63.3 274.2,62.9 275.3,62.7 276.5,62.7 277.7,62.8 278.9,63.1 280.1,63.5 281.4,64.1 282.6,64.8 283.8,65.7 285.0,66.8 286.2,68.0 287.4,69.3 288.7,70.9 289.9,72.5 291.1,74.3 292.3,76.3 293.6,78.4 294.8,80.6 296.0,83.0 297.3,85.5 298.5,88.1 299.7,90.9 301.0,93.8 302.2,96.9 303.5,100.0 304.7,103.3 305.9,106.7 307.2,110.2 308.4,113.8 309.6,117.5 310.9,121.4 312.1,125.3 313.3,129.3 314.6,133.4 315.8,137.5 317.1,141.8 318.3,146.1 319.5,150.5 320.7,154.9 322.0,159.5 323.2,164.0 324.4,168.7 325.7,173.3 326.9,178.0 328.1,182.8 329.3,187.5 330.5,192.3 331.8,197.2 333.0,202.0 334.2,206.8 335.4,211.7 336.6,216.6 337.8,221.4 339.0,226.2 340.2,231.1 341.5,235.9 342.7,240.7 343.9,245.5 345.1,250.2 346.3,254.9 347.5,259.6 348.7,264.2 349.9,268.7 351.1,273.3 352.3,277.7 353.5,282.1 354.6,286.4 355.8,290.7 357.0,294.9 358.2,299.0 359.4,303.1 360.6,307.0 361.8,310.9 363.0,314.7 364.2,318.3 365.4,321.9 366.6,325.4 367.8,328.8 369.0,332.1 370.2,335.3 371.4,338.3 372.6,341.3 373.8,344.1 375.0,346.9 376.2,349.5 377.4,351.9 378.6,354.3 379.8,356.5 381.0,358.6 382.2,360.6 383.4,362.4 384.6,364.1 385.9,365.7 387.1,367.2 388.3,368.5 389.5,369.6 390.8,370.7 392.0,371.5" stroke="#ff0000" stroke-width="3.6" fill="none" stroke-linejoin="round" stroke-linecap="round"/>
<polyline points="169.8,328.3 170.8,328.4 171.7,328.5 172.7,328.4 173.7,328.2 174.7,327.9 175.6,327.4 176.6,326.9 177.5,326.2 178.5,325.4 179.4,324.5 180.4,323.4 181.3,322.3 182.3,321.0 183.2,319.6 184.2,318.1 185.1,316.5 186.0,314.8 187.0,313.0 187.9,311.0 188.8,309.0 189.8,306.8 190.7,304.6 191.6,302.2 192.5,299.7 193.5,297.2 194.4,294.5 195.3,291.8 196.2,288.9 197.1,286.0 198.1,283.0 199.0,279.9 199.9,276.7 200.8,273.4 201.8,270.1 202.7,266.7 203.6,263.2 204.5,259.6 205.5,256.0 206.4,252.3 207.3,248.6 208.2,244.8 209.2,240.9 210.1,237.0 211.1,233.1 212.0,229.1 212.9,225.1 213.9,221.0 214.8,216.9 215.8,212.8 216.7,208.7 217.7,204.5 218.7,200.4 219.6,196.2 220.6,192.0 221.6,187.8 222.5,183.6 223.5,179.5 224.5,175.3 225.5,171.1 226.5,167.0 227.5,162.9 228.5,158.8 229.5,154.8 230.5,150.7 231.5,146.8 232.5,142.8 233.5,138.9 234.6,135.1 235.6,131.3 236.6,127.6 237.7,124.0 238.7,120.4 239.8,116.9 240.8,113.5 241.9,110.1 243.0,106.9 244.1,103.7 245.1,100.6 246.2,97.6 247.3,94.8 248.4,92.0 249.5,89.3 250.6,86.8 251.7,84.3 252.8,82.0 254.0,79.8 255.1,77.7 256.2,75.7 257.4,73.9 258.5,72.2 259.6,70.6 260.8,69.2 262.0,67.9 263.1,66.8 264.3,65.7 265.4,64.9 266.6,64.1 267.8,63.5 269.0,63.1 270.2,62.8 271.3,62.7 272.5,62.7 273.7,62.8 274.9,63.1 276.1,63.6 277.3,64.2 278.5,64.9 279.8,65.8 281.0,66.8 282.2,68.0 283.4,69.4 284.6,70.8 285.8,72.4 287.1,74.2 288.3,76.1 289.5,78.1 290.8,80.3 292.0,82.6 293.2,85.1 294.4,87.6 295.7,90.3 296.9,93.1 298.2,96.1 299.4,99.1 300.6,102.3 301.9,105.6 303.1,109.0 304.3,112.5 305.6,116.1 306.8,119.7 308.0,123.5 309.3,127.4 310.5,131.4 311.7,135.4 313.0,139.5 314.2,143.7 315.4,148.0 316.7,152.4 317.9,156.8 319.1,161.2 320.4,165.7 321.6,170.3 322.8,174.9 324.0,179.5 325.3,184.2 326.5,188.9 327.7,193.6 328.9,198.4 330.1,203.2 331.4,207.9 332.6,212.7 333.8,217.5 335.0,222.3 336.2,227.1 337.4,231.9 338.6,236.7 339.8,241.5 341.0,246.2 342.2,250.9 343.4,255.6 344.6,260.2 345.8,264.8 347.0,269.4 348.2,273.9 349.4,278.4 350.6,282.8 351.8,287.2 353.0,291.5 354.2,295.7 355.4,299.9 356.6,304.0 357.8,308.0 359.0,312.0 360.2,315.8 361.4,319.6 362.6,323.3 363.7,326.9 364.9,330.4 366.1,333.9 367.3,337.2 368.5,340.4 369.7,343.5 370.9,346.6 372.1,349.5 373.3,352.3 374.5,355.0 375.7,357.5 376.9,360.0 378.1,362.3 379.3,364.6 380.5,366.7 381.7,368.6 383.0,370.5 384.2,372.2 385.4,373.8 386.6,375.3 387.8,376.7 389.1,377.9 390.3,379.0 391.5,379.9" stroke="#0000f0" stroke-width="3.6" fill="none" stroke-linejoin="round" stroke-linecap="round"/>
<polyline points="167.1,336.8 168.0,335.2 168.9,333.4 169.8,331.5 170.7,329.6 171.6,327.5 172.5,325.3 173.4,323.0 174.2,320.6 175.1,318.0 176.0,315.4 176.9,312.7 177.8,309.9 178.7,307.0 179.6,304.0 180.4,300.9 181.3,297.7 182.2,294.5 183.1,291.1 184.0,287.7 184.8,284.2 185.7,280.6 186.6,276.9 187.5,273.2 188.4,269.4 189.3,265.6 190.2,261.7 191.0,257.7 191.9,253.7 192.8,249.6 193.7,245.5 194.6,241.3 195.5,237.1 196.4,232.8 197.3,228.6 198.2,224.3 199.1,219.9 200.0,215.6 200.9,211.2 201.9,206.8 202.8,202.4 203.7,198.0 204.6,193.6 205.6,189.2 206.5,184.8 207.5,180.4 208.4,176.1 209.3,171.7 210.3,167.4 211.3,163.1 212.2,158.8 213.2,154.6 214.2,150.4 215.1,146.3 216.1,142.2 217.1,138.1 218.1,134.1 219.1,130.2 220.1,126.3 221.1,122.6 222.1,118.8 223.2,115.2 224.2,111.6 225.2,108.2 226.3,104.8 227.3,101.5 228.4,98.3 229.4,95.2 230.5,92.2 231.5,89.3 232.6,86.6 233.7,83.9 234.8,81.4 235.9,78.9 237.0,76.6 238.1,74.5 239.2,72.4 240.3,70.5 241.4,68.7 242.5,67.1 243.7,65.6 244.8,64.2 245.9,63.0 247.1,61.9 248.2,61.0 249.4,60.2 250.5,59.5 251.7,59.1 252.9,58.7 254.0,58.5 255.2,58.5 256.4,58.6 257.6,58.9 258.8,59.3 260.0,59.9 261.2,60.6 262.4,61.4 263.6,62.5 264.8,63.6 266.0,65.0 267.2,66.4 268.4,68.1 269.6,69.8 270.8,71.7 272.1,73.8 273.3,76.0 274.5,78.3 275.7,80.7 277.0,83.3 278.2,86.1 279.4,88.9 280.7,91.9 281.9,95.0 283.1,98.2 284.4,101.6 285.6,105.0 286.9,108.6 288.1,112.3 289.3,116.1 290.6,119.9 291.8,123.9 293.1,128.0 294.3,132.1 295.5,136.4 296.8,140.7 298.0,145.1 299.2,149.5 300.5,154.1 301.7,158.7 302.9,163.3 304.2,168.1 305.4,172.8 306.6,177.6 307.9,182.5 309.1,187.4 310.3,192.3 311.6,197.3 312.8,202.3 314.0,207.3 315.2,212.3 316.4,217.3 317.7,222.3 318.9,227.4 320.1,232.4 321.3,237.5 322.5,242.5 323.7,247.5 324.9,252.5 326.1,257.5 327.3,262.4 328.5,267.3 329.8,272.2 331.0,277.0 332.2,281.8 333.4,286.6 334.5,291.3 335.7,295.9 336.9,300.5 338.1,305.1 339.3,309.5 340.5,313.9 341.7,318.3 342.9,322.5 344.1,326.7 345.3,330.8 346.5,334.8 347.6,338.8 348.8,342.6 350.0,346.4 351.2,350.0 352.4,353.6 353.6,357.0 354.8,360.4 356.0,363.6 357.1,366.8 358.3,369.8 359.5,372.8 360.7,375.6 361.9,378.3 363.1,380.9 364.3,383.3 365.5,385.7 366.7,387.9 367.9,390.0 369.1,392.0 370.3,393.8 371.5,395.5 372.7,397.1 373.9,398.6 375.1,399.9 376.3,401.1 377.5,402.2 378.8,403.1 380.0,403.9 381.2,404.6 382.4,405.1 383.7,405.5 384.9,405.8 386.1,405.9 387.4,405.9 388.6,405.8" stroke="#1ef0f0" stroke-width="3.6" fill="none" stroke-linejoin="round" stroke-linecap="round"/>
<g stroke="#000" stroke-width="2.2" fill="none" stroke-linecap="butt"><polyline points="103.5,47.3 122.3,382.9 425.1,466.7 554.5,334.3" stroke-linejoin="miter"/><line x1="120.2" y1="344.6" x2="104.7" y2="349.6" /><line x1="115.7" y1="264.0" x2="100.2" y2="269.0" /><line x1="110.9" y1="179.7" x2="95.4" y2="184.7" /><line x1="106.0" y1="91.4" x2="90.5" y2="96.4" /><line x1="117.9" y1="304.7" x2="109.9" y2="304.7" /><line x1="113.3" y1="222.3" x2="105.3" y2="222.3" /><line x1="108.5" y1="136.1" x2="100.5" y2="136.1" /><line x1="103.4" y1="45.8" x2="95.4" y2="45.8" /><line x1="122.3" y1="382.9" x2="111.0" y2="389.2" /><line x1="140.9" y1="388.0" x2="136.2" y2="390.8" /><line x1="159.9" y1="393.3" x2="148.8" y2="400.0" /><line x1="179.4" y1="398.7" x2="174.7" y2="401.6" /><line x1="199.2" y1="404.2" x2="188.3" y2="411.2" /><line x1="219.6" y1="409.8" x2="215.0" y2="412.8" /><line x1="240.3" y1="415.5" x2="229.6" y2="423.0" /><line x1="261.6" y1="421.4" x2="257.1" y2="424.7" /><line x1="283.3" y1="427.5" x2="272.9" y2="435.3" /><line x1="305.6" y1="433.6" x2="301.2" y2="437.0" /><line x1="328.3" y1="439.9" x2="318.3" y2="448.2" /><line x1="351.7" y1="446.4" x2="347.5" y2="450.0" /><line x1="375.6" y1="453.0" x2="366.0" y2="461.8" /><line x1="400.0" y1="459.8" x2="396.1" y2="463.6" /><line x1="425.1" y1="466.7" x2="416.0" y2="476.0" /><line x1="425.1" y1="466.7" x2="441.5" y2="471.3" /><line x1="445.5" y1="445.8" x2="454.5" y2="445.8" /><line x1="464.5" y1="426.5" x2="480.9" y2="430.6" /><line x1="482.1" y1="408.4" x2="491.1" y2="408.4" /><line x1="498.5" y1="391.6" x2="515.1" y2="395.4" /><line x1="513.9" y1="375.9" x2="522.9" y2="375.9" /><line x1="528.3" y1="361.1" x2="544.9" y2="364.7" /><line x1="541.8" y1="347.3" x2="550.8" y2="347.3" /><line x1="554.5" y1="334.3" x2="571.2" y2="337.6" /></g>
<g font-family="Liberation Sans, sans-serif" font-size="13.8" letter-spacing="0.65" fill="#2a2a2a"><line x1="593.3" y1="36.7" x2="625.8" y2="36.7" stroke="#1ef0f0" stroke-width="3.3" stroke-linecap="round"/><rect x="607.2" y="35.2" width="1.6" height="3" fill="#000" opacity="0.8"/><text x="630" y="41.7">Pure He</text><line x1="593.3" y1="55.4" x2="625.8" y2="55.4" stroke="#0000f0" stroke-width="3.3" stroke-linecap="round"/><rect x="607.2" y="53.9" width="1.6" height="3" fill="#000" opacity="0.8"/><text x="630" y="60.4">13.6 Pa</text><line x1="593.3" y1="74.0" x2="625.8" y2="74.0" stroke="#ff0000" stroke-width="3.3" stroke-linecap="round"/><rect x="607.2" y="72.5" width="1.6" height="3" fill="#000" opacity="0.8"/><text x="630" y="79.0">15.5 Pa</text><line x1="593.3" y1="92.7" x2="625.8" y2="92.7" stroke="#18e818" stroke-width="3.3" stroke-linecap="round"/><rect x="607.2" y="91.2" width="1.6" height="3" fill="#000" opacity="0.8"/><text x="630" y="97.7">19.4 Pa</text><line x1="593.3" y1="111.3" x2="625.8" y2="111.3" stroke="#f010f0" stroke-width="3.3" stroke-linecap="round"/><rect x="607.2" y="109.8" width="1.6" height="3" fill="#000" opacity="0.8"/><text x="630" y="116.3">23.9 Pa</text><line x1="593.3" y1="130.0" x2="625.8" y2="130.0" stroke="#ffff00" stroke-width="3.3" stroke-linecap="round"/><rect x="607.2" y="128.5" width="1.6" height="3" fill="#000" opacity="0.8"/><text x="630" y="135.0">36.7 Pa</text><line x1="593.3" y1="148.7" x2="625.8" y2="148.7" stroke="#808000" stroke-width="3.3" stroke-linecap="round"/><rect x="607.2" y="147.2" width="1.6" height="3" fill="#000" opacity="0.8"/><text x="630" y="153.7">48.8 Pa</text><line x1="593.3" y1="167.3" x2="625.8" y2="167.3" stroke="#800000" stroke-width="3.3" stroke-linecap="round"/><rect x="607.2" y="165.8" width="1.6" height="3" fill="#000" opacity="0.8"/><text x="630" y="172.3">77.6 Pa</text><line x1="593.3" y1="186.0" x2="625.8" y2="186.0" stroke="#8000ff" stroke-width="3.3" stroke-linecap="round"/><rect x="607.2" y="184.5" width="1.6" height="3" fill="#000" opacity="0.8"/><text x="630" y="191.0">97.0 Pa</text><line x1="593.3" y1="204.6" x2="625.8" y2="204.6" stroke="#008080" stroke-width="3.3" stroke-linecap="round"/><rect x="607.2" y="203.1" width="1.6" height="3" fill="#000" opacity="0.8"/><text x="630" y="209.6">167.3 Pa</text><line x1="593.3" y1="223.3" x2="625.8" y2="223.3" stroke="#000000" stroke-width="3.3" stroke-linecap="round"/><rect x="607.2" y="221.8" width="1.6" height="3" fill="#000" opacity="0.8"/><text x="630" y="228.3">229.7 Pa</text><line x1="593.3" y1="242.0" x2="625.8" y2="242.0" stroke="#ff8000" stroke-width="3.3" stroke-linecap="round"/><rect x="607.2" y="240.5" width="1.6" height="3" fill="#000" opacity="0.8"/><text x="630" y="247.0">307.6 Pa</text><line x1="593.3" y1="260.6" x2="625.8" y2="260.6" stroke="#ff0080" stroke-width="3.3" stroke-linecap="round"/><rect x="607.2" y="259.1" width="1.6" height="3" fill="#000" opacity="0.8"/><text x="630" y="265.6">516.59 Pa</text><line x1="593.3" y1="279.3" x2="625.8" y2="279.3" stroke="#808080" stroke-width="3.3" stroke-linecap="round"/><rect x="607.2" y="277.8" width="1.6" height="3" fill="#000" opacity="0.8"/><text x="630" y="284.3">953.65 Pa</text></g>
<g font-family="Liberation Sans, sans-serif" font-weight="bold" font-size="17" fill="#1a1a1a"><text x="87" y="415" font-size="17.6" letter-spacing="0.9" transform="translate(87,415) scale(0.86,1) translate(-87,-415)">1500</text><text x="127" y="425.2" font-size="17.6" letter-spacing="0.9" transform="translate(127,425.2) scale(0.86,1) translate(-127,-425.2)">1520</text><text x="169" y="439" font-size="17.6" letter-spacing="0.9" transform="translate(169,439) scale(0.86,1) translate(-169,-439)">1540</text><text x="212.5" y="451.7" font-size="17.6" letter-spacing="0.9" transform="translate(212.5,451.7) scale(0.86,1) translate(-212.5,-451.7)">1560</text><text x="258.5" y="464.6" font-size="17.6" letter-spacing="0.9" transform="translate(258.5,464.6) scale(0.86,1) translate(-258.5,-464.6)">1580</text><text x="306.5" y="478" font-size="17.6" letter-spacing="0.9" transform="translate(306.5,478) scale(0.86,1) translate(-306.5,-478)">1600</text><text x="356" y="493.5" font-size="17.6" letter-spacing="0.9" transform="translate(356,493.5) scale(0.86,1) translate(-356,-493.5)">1620</text><text x="410" y="508.2" font-size="17.6" letter-spacing="0.9" transform="translate(410,508.2) scale(0.86,1) translate(-410,-508.2)">1640</text><text x="0" y="0" font-size="16" letter-spacing="0.4" transform="translate(38.3,111.3) rotate(-16.5)">0.028</text><text x="0" y="0" font-size="16" letter-spacing="0.4" transform="translate(44.8,200.3) rotate(-16.5)">0.026</text><text x="0" y="0" font-size="16" letter-spacing="0.4" transform="translate(50.8,286.4) rotate(-16.5)">0.024</text><text x="0" y="0" font-size="16" letter-spacing="0.4" transform="translate(55.6,369.8) rotate(-16.5)">0.022</text><text x="442" y="479.5" font-size="17.6" letter-spacing="0.9" transform="translate(442,479.5) scale(0.86,1) translate(-442,-479.5)">0</text><text x="481" y="438.5" font-size="17.6" letter-spacing="0.9" transform="translate(481,438.5) scale(0.86,1) translate(-481,-438.5)">250</text><text x="514" y="404" font-size="17.6" letter-spacing="0.9" transform="translate(514,404) scale(0.86,1) translate(-514,-404)">500</text><text x="544.5" y="372.5" font-size="17.6" letter-spacing="0.9" transform="translate(544.5,372.5) scale(0.86,1) translate(-544.5,-372.5)">750</text><text x="572" y="346" font-size="17.6" letter-spacing="0.9" transform="translate(572,346) scale(0.86,1) translate(-572,-346)">1000</text></g>
<text transform="translate(27.6,304.8) rotate(-90)" font-family="Liberation Sans, sans-serif" font-size="23.8" fill="#1a1a1a">Reflectance</text>
<text transform="translate(148,456.7) rotate(14)" font-family="Liberation Sans, sans-serif" font-weight="bold" font-size="18" fill="#1a1a1a">Wavelength (nm)</text>
<text transform="translate(523.5,485) rotate(-54)" font-family="Liberation Sans, sans-serif" font-weight="bold" font-size="17.6" fill="#1a1a1a">Pressure (Pa)</text>
<text x="351.1" y="548.6" text-anchor="middle" font-family="Liberation Serif, serif" font-size="28" fill="#000">(<tspan font-weight="bold">a</tspan>)</text></svg></body></html>
